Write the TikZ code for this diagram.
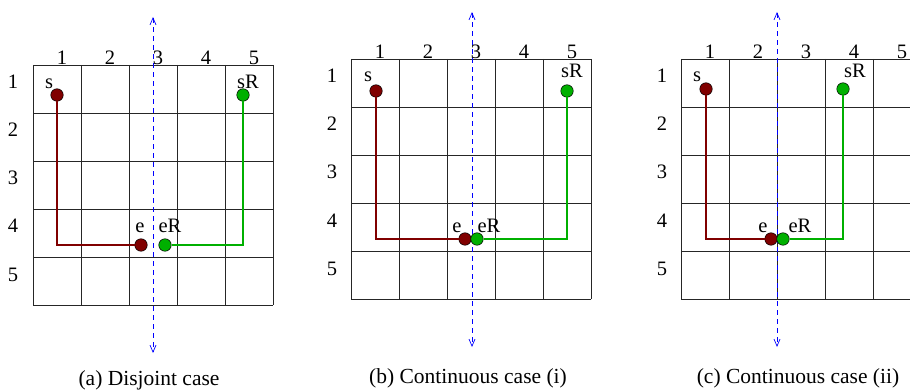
\documentclass[tikz,border=0pt]{standalone}
\usepackage{fontspec}
\setmainfont{Liberation Serif}
\usepackage{xcolor}
\usetikzlibrary{positioning,arrows.meta,calc}
\definecolor{cPath}{HTML}{800000}
\definecolor{cRefl}{HTML}{00B000}
\definecolor{cAxis}{HTML}{0000FF}

\begin{document}
\begin{tikzpicture}[
  x=1pt, y=-1pt,
  font=\fontsize{20.5}{22}\selectfont,
  cell/.style ={draw=black!85, line width=0.7pt},
  num/.style  ={anchor=base, inner sep=0pt},
  lbl/.style  ={anchor=base, inner sep=0pt},
  capt/.style ={anchor=base, inner sep=0pt, font=\fontsize{21.5}{23}\selectfont},
  dot/.style  ={circle, draw=black, line width=0.5pt, minimum size=12.5pt, inner sep=0pt},
  rdot/.style ={dot, fill=cPath},
  gdot/.style ={dot, fill=cRefl},
  rpath/.style={draw=cPath, line width=1.7pt},
  gpath/.style={draw=cRefl, line width=1.7pt},
  ax/.style   ={{Straight Barb[length=7pt,width=6pt]}-{Straight Barb[length=7pt,width=6pt]},
                draw=cAxis, dashed, dash pattern=on 5pt off 4pt, line width=0.7pt},
]
\clip (0,0) rectangle (910,390);

% (a) disjoint case
\foreach \i in {0,...,5}{
  \draw[cell] ({33+48*\i},65) -- ({33+48*\i},305);
  \draw[cell] (33,{65+48*\i}) -- (273,{65+48*\i});
}
\foreach \i in {1,...,5}{
  \node[num] (ca\i) at ({14+48*\i},65) {\i};
  \node[num] (ra\i) at (13,{41+48*\i}) {\i};
}
\coordinate (atop) at (153,17);
\coordinate (abot) at (153,353);
\draw[ax] (atop) -- (abot);
\node[rdot] (sa)  at (57,95)   {};
\node[gdot] (sRa) at (243,95)  {};
\node[rdot] (ea)  at (141,245) {};
\node[gdot] (eRa) at (165,245) {};
\draw[rpath] (sa) |- (ea);
\draw[gpath] (sRa) |- (eRa);
\node[lbl] at (49,89)   {s};
\node[lbl] at (248,89)  {sR};
\node[lbl] at (140,233) {e};
\node[lbl] at (170,233) {eR};
\node[capt] (capa) at (149,385) {(a) Disjoint case};

% (b) continuous case (i)
\foreach \i in {0,...,5}{
  \draw[cell] ({351+48*\i},59) -- ({351+48*\i},299);
  \draw[cell] (351,{59+48*\i}) -- (591,{59+48*\i});
}
\foreach \i in {1,...,5}{
  \node[num] (cb\i) at ({332+48*\i},59) {\i};
  \node[num] (rb\i) at (332,{35+48*\i}) {\i};
}
\coordinate (btop) at (472,12);
\coordinate (bbot) at (472,347);
\draw[ax] (btop) -- (bbot);
\node[rdot] (sb)  at (376,91)  {};
\node[gdot] (sRb) at (567,91)  {};
\node[rdot] (eb)  at (465,239) {};
\node[gdot] (eRb) at (477,239) {};
\draw[rpath] (sb) |- (eb);
\draw[gpath] (sRb) |- (eRb);
\node[lbl] at (368,82)  {s};
\node[lbl] at (572,78)  {sR};
\node[lbl] at (457,233) {e};
\node[lbl] at (489,233) {eR};
\node[capt] (capb) at (468,383) {(b) Continuous case (i)};

% (c) continuous case (ii)
\foreach \i in {0,...,5}{
  \draw[cell] ({681+48*\i},59) -- ({681+48*\i},299);
  \draw[cell] (681,{59+48*\i}) -- (921,{59+48*\i});
}
\foreach \i in {1,...,5}{
  \node[num] (cc\i) at ({662+48*\i},59) {\i};
  \node[num] (rc\i) at (662,{35+48*\i}) {\i};
}
\coordinate (ctop) at (777,12);
\coordinate (cbot) at (777,347);
\draw[ax] (ctop) -- (cbot);
\node[rdot] (sc)  at (706,89)  {};
\node[gdot] (sRc) at (843,89)  {};
\node[rdot] (ec)  at (771,239) {};
\node[gdot] (eRc) at (783,239) {};
\draw[rpath] (sc) |- (ec);
\draw[gpath] (sRc) |- (eRc);
\node[lbl] at (697,82)  {s};
\node[lbl] at (855,78)  {sR};
\node[lbl] at (763,233) {e};
\node[lbl] at (800,233) {eR};
\node[capt] (capc) at (798,383) {(c) Continuous case (ii)};
\end{tikzpicture}
\end{document}
